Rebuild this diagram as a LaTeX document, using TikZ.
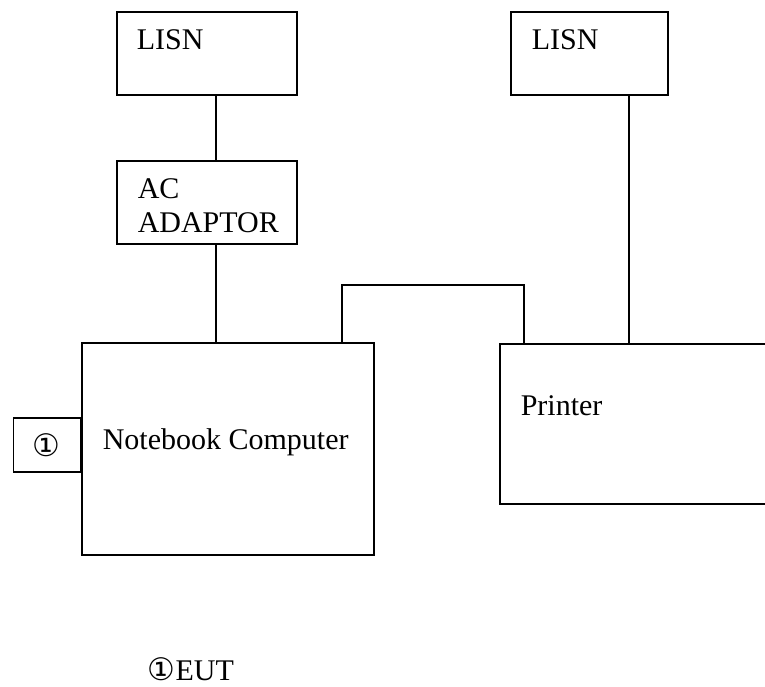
\documentclass[tikz,border=0pt]{standalone}
\usepackage{fontspec}
\setmainfont{Liberation Serif}
\newfontfamily\symfont{DejaVu Sans}
\usetikzlibrary{positioning}

\begin{document}
\begin{tikzpicture}[x=1pt,y=-1pt,line width=1.5pt,
	Wire/.style={-,black,line width=1.5pt},
	Box/.style={rectangle,fill=white,draw=black,inner sep=0pt,anchor=north west},
	Label/.style={anchor=base west,inner sep=0pt,font=\fontsize{30}{34}\selectfont},
]
	\useasboundingbox (0,0) rectangle (765,686);

	\node[Box,minimum width=180,minimum height=83] (LisnA) at (116,11){};
	\node[Box,minimum width=180,minimum height=83] (Adaptor) at (116,160){};
	\node[Box,minimum width=157,minimum height=83] (LisnB) at (510,11){};
	\node[Box,minimum width=292,minimum height=212] (Notebook) at (81,342){};
	\node[Box,minimum width=300,minimum height=160] (Printer) at (499,343){};
	\node[Box,anchor=east,minimum width=67,minimum height=54,font=\symfont\fontsize{31}{31}\selectfont] (Port) at ([yshift=4]Notebook.west){①};

	\node[Label] at (136,49){LISN};
	\node[Label] at (531,49){LISN};
	\node[Label] at (137,198){AC};
	\node[Label] at (137,232){ADAPTOR};
	\node[Label] at (102,449){Notebook Computer};
	\node[Label] at (520,415){Printer};
	\node[Label] (Note) at (147,680){{\symfont\fontsize{31}{31}\selectfont ①}EUT};

	\path[Wire]
	([xshift=100]LisnA.south west) edge ([xshift=100]Adaptor.north west)
	([xshift=100]Adaptor.south west) edge ([xshift=135]Notebook.north west)
	([xshift=119]LisnB.south west) edge ([xshift=130]Printer.north west)
	;
	\draw[Wire] ([xshift=261]Notebook.north west) -- ++(0,-57) -| ([xshift=25]Printer.north west);
\end{tikzpicture}
\end{document}
